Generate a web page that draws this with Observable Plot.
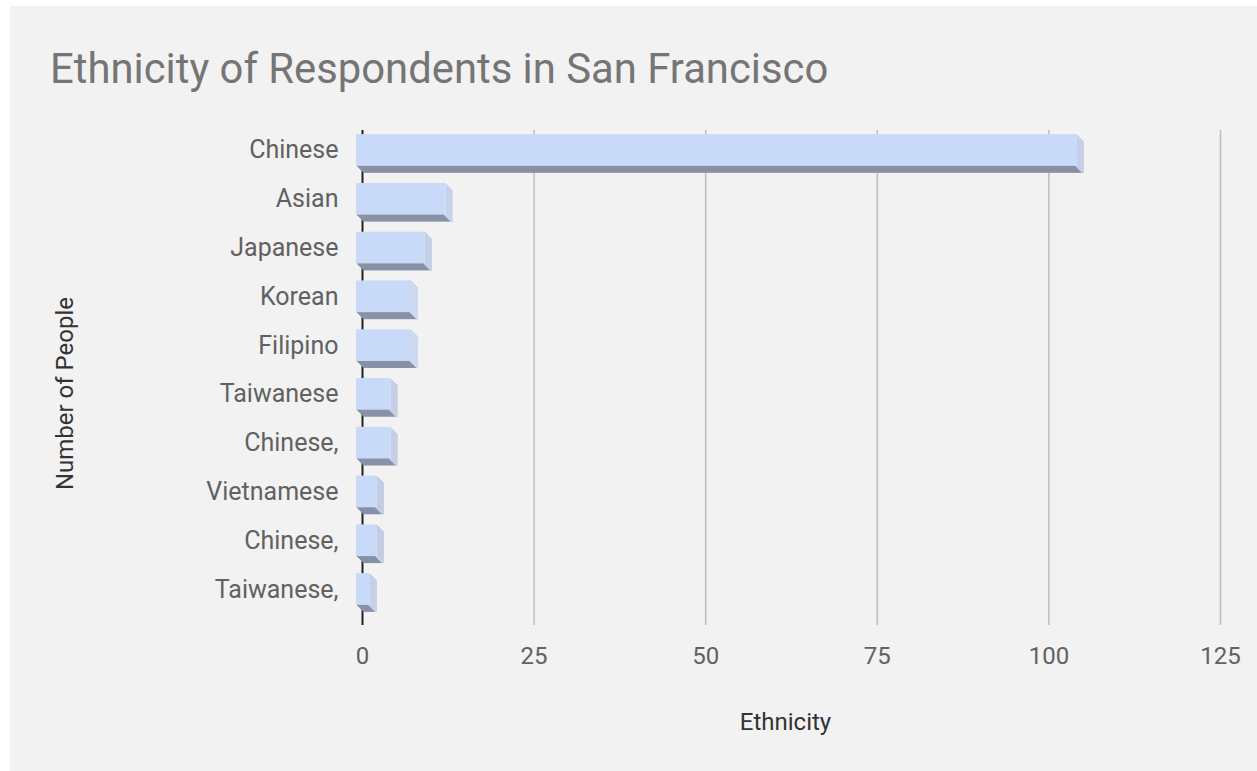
<!DOCTYPE html>
<html>
<head>
<meta charset="utf-8">
<script src="https://cdn.jsdelivr.net/npm/d3@7"></script>
<script src="https://cdn.jsdelivr.net/npm/@observablehq/plot@0.6"></script>
<style>
  html, body { margin: 0; padding: 0; background: #ffffff; }
  #panel { position: absolute; left: 10px; top: 6px; width: 1247px; height: 765px; background: #f2f2f2; overflow: hidden; }
  #title { position: absolute; left: 40px; top: 42px; font-family: Roboto, sans-serif; font-size: 41.8px; line-height: 42px; color: #757575; white-space: nowrap; }
  #chart { position: absolute; left: 0; top: 94px; }
</style>
</head>
<body>
<div id="panel">
  <div id="title">Ethnicity of Respondents in San Francisco</div>
  <div id="chart"></div>
</div>
<script>
const categories = ["Chinese", "Asian", "Japanese", "Korean", "Filipino", "Taiwanese", "Chinese,", "Vietnamese", "Chinese,", "Taiwanese,"];
const values = [105, 13, 10, 8, 8, 5, 5, 3, 3, 2];
const xTicks = [0, 25, 50, 75, 100, 125];
const xLabel = "Ethnicity";
const yLabel = "Number of People";

const data = categories.map((name, i) => ({i, name, value: values[i]}));

const frontColor = "#c9daf8";
const sideColor = "#d5e1f7";
const bottomColor = "#8891a6";
const depth = 7;
const shiftX = -6;

const layers = [];
for (let k = depth; k >= 1; k--) {
  layers.push(Plot.barX(data, {x1: 0, x2: "value", y: "i", fill: bottomColor, dx: shiftX + k, dy: k}));
  layers.push(Plot.barX(data, {x1: "value", x2: "value", y: "i", fill: sideColor, insetLeft: -2, dx: shiftX + k, dy: k}));
}

const chart = Plot.plot({
  width: 1247,
  height: 671,
  marginLeft: 352,
  marginRight: 37,
  marginTop: 30,
  marginBottom: 146,
  style: {background: "transparent", fontFamily: "Roboto, sans-serif", fontSize: "24px", color: "#616161", overflow: "visible"},
  x: {type: "linear", domain: [0, 125]},
  y: {type: "band", domain: d3.range(categories.length), range: [25.6, 513.4], round: false, paddingInner: 0.35, paddingOuter: 0.175, align: 0.5},
  marks: [
    Plot.gridX(xTicks.slice(1), {stroke: "#bdbdbd", strokeOpacity: 1, strokeWidth: 1.5}),
    Plot.ruleX([0], {stroke: "#222222", strokeWidth: 2}),
    ...layers,
    Plot.barX(data, {x1: 0, x2: "value", y: "i", fill: frontColor, dx: shiftX}),
    Plot.axisX(xTicks, {tickSize: 0, tickPadding: 21, fontSize: 24, label: null, fill: "#616161"}),
    Plot.axisY({tickSize: 0, tickPadding: 24, fontSize: 25, label: null, tickFormat: i => categories[i], fill: "#616161"}),
    Plot.text([xLabel], {text: d => d, frameAnchor: "bottom", lineAnchor: "middle", textAnchor: "middle", dy: 97, dx: -6, fill: "#333333", fontSize: 24}),
    Plot.text([yLabel], {text: d => d, frameAnchor: "left", lineAnchor: "middle", textAnchor: "middle", dx: -297, dy: 15.5, rotate: -90, fill: "#333333", fontSize: 24})
  ]
});
document.getElementById("chart").appendChild(chart);
</script>
</body>
</html>
